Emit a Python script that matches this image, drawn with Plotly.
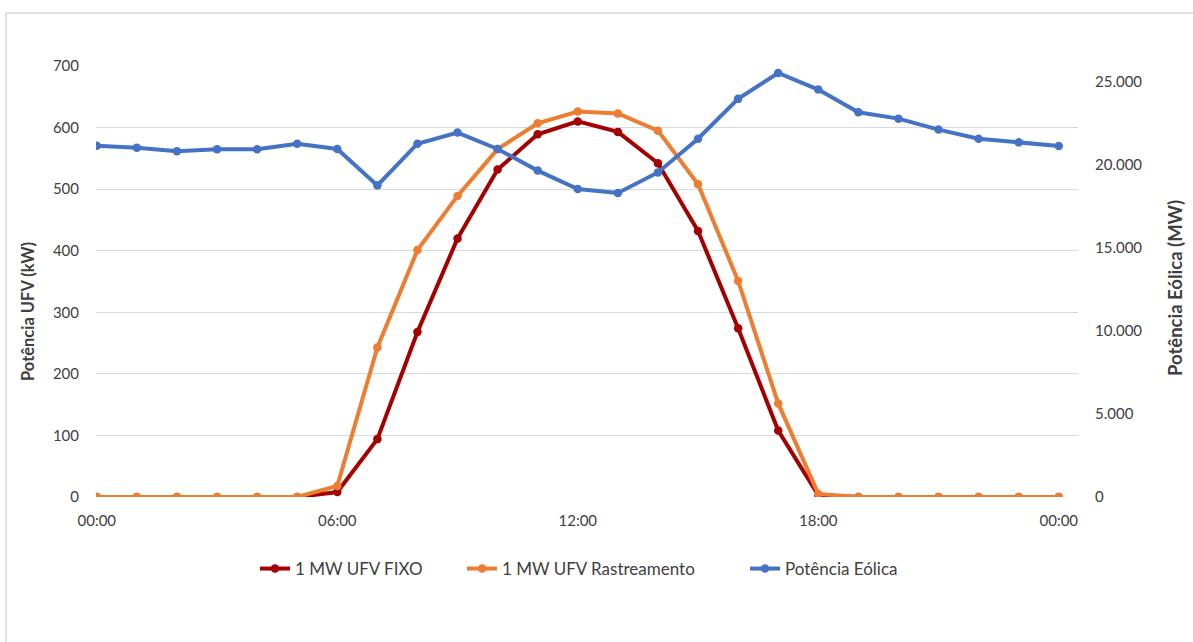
import plotly.graph_objects as go

# Hourly profile, 00:00 to 24:00
hours = list(range(25))
tick_hours = [0, 6, 12, 18, 24]
tick_labels = ["00:00", "06:00", "12:00", "18:00", "00:00"]

# PV output (kW)
ufv_fixo = [0, 0, 0, 0, 0, 0, 8, 94, 268, 420, 532, 589, 610, 593, 542,
            432, 274, 108, 3, 0, 0, 0, 0, 0, 0]
ufv_rastreamento = [0, 0, 0, 0, 0, 0, 18, 243, 401, 489, 565, 607, 626, 623,
                    595, 508, 351, 152, 5, 0, 0, 0, 0, 0, 0]

# Wind output (MW)
potencia_eolica = [21160, 21040, 20820, 20940, 20940, 21280, 20960, 18770,
                   21280, 21950, 20960, 19660, 18550, 18310, 19550, 21580,
                   23980, 25540, 24540, 23170, 22790, 22130, 21580, 21360,
                   21140]

right_ticks = [0, 5000, 10000, 15000, 20000, 25000]
right_tick_labels = ["0", "5.000", "10.000", "15.000", "20.000", "25.000"]

FONT = "Lato, Open Sans, sans-serif"
TXT = "#404040"
GRID = "#d9d9d9"

W, H = 1193, 642
L, R, T, B = 96, 1078, 66, 497
pw, ph = R - L, B - T


def px_x(p):
    return (p - L) / pw


def px_y(p):
    return (B - p) / ph


series = [
    ("1 MW UFV FIXO", ufv_fixo, "#A50000", "y", "legend", 297),
    ("1 MW UFV Rastreamento", ufv_rastreamento, "#ED7D31", "y", "legend2", 504),
    ("Potência Eólica", potencia_eolica, "#4472C4", "y2", "legend3", 787),
]

fig = go.Figure()
legends = {}
for name, vals, color, yax, leg, text_x in series:
    fig.add_trace(go.Scatter(
        x=hours, y=vals, name=name, mode="lines+markers",
        line=dict(color=color, width=4),
        marker=dict(size=8.5, color=color),
        yaxis=yax, legend=leg,
    ))
    legends[leg] = dict(
        orientation="h", x=px_x(text_x - 42), xanchor="left",
        y=px_y(569), yanchor="middle", bgcolor="rgba(0,0,0,0)",
        font=dict(family=FONT, size=17, color=TXT),
    )

fig.update_layout(
    width=W, height=H,
    margin=dict(l=L, r=W - R, t=T, b=H - B),
    paper_bgcolor="white", plot_bgcolor="white",
    font=dict(family=FONT, size=15, color=TXT),
    showlegend=True,
    **legends,
    xaxis=dict(
        range=[-0.02, 24.48], tickvals=tick_hours, ticktext=tick_labels,
        showgrid=False, zeroline=False, showline=False, ticks="",
        ticklabelstandoff=13,
        tickfont=dict(family=FONT, size=15, color=TXT),
    ),
    yaxis=dict(
        range=[0, 700], dtick=100, showgrid=True, gridcolor=GRID,
        gridwidth=1, zeroline=False, showline=False, ticks="",
        ticklabelstandoff=16,
        tickfont=dict(family=FONT, size=15, color=TXT),
    ),
    yaxis2=dict(
        range=[0, 25960], overlaying="y", side="right",
        tickvals=right_ticks, ticktext=right_tick_labels,
        showgrid=False, zeroline=False, showline=False, ticks="",
        ticklabelstandoff=16,
        tickfont=dict(family=FONT, size=15, color=TXT),
    ),
    annotations=[
        dict(text="<b>Potência UFV (kW)</b>", textangle=-90,
             xref="paper", yref="paper", x=px_x(28), y=px_y(312),
             xanchor="center", yanchor="middle", showarrow=False,
             font=dict(family=FONT, size=16.5, color=TXT)),
        dict(text="<b>Potência Eólica (MW)</b>", textangle=-90,
             xref="paper", yref="paper", x=px_x(1175), y=px_y(288),
             xanchor="center", yanchor="middle", showarrow=False,
             font=dict(family=FONT, size=18.5, color=TXT)),
    ],
    shapes=[
        # chart-area border (left and top edges)
        dict(type="line", xref="paper", yref="paper",
             x0=px_x(6), x1=px_x(6), y0=px_y(642), y1=px_y(13),
             line=dict(color="#d9d9d9", width=1.5), layer="below"),
        dict(type="line", xref="paper", yref="paper",
             x0=px_x(6), x1=px_x(1193), y0=px_y(13), y1=px_y(13),
             line=dict(color="#d9d9d9", width=1.5), layer="below"),
    ],
)

fig.write_html("out.html")
